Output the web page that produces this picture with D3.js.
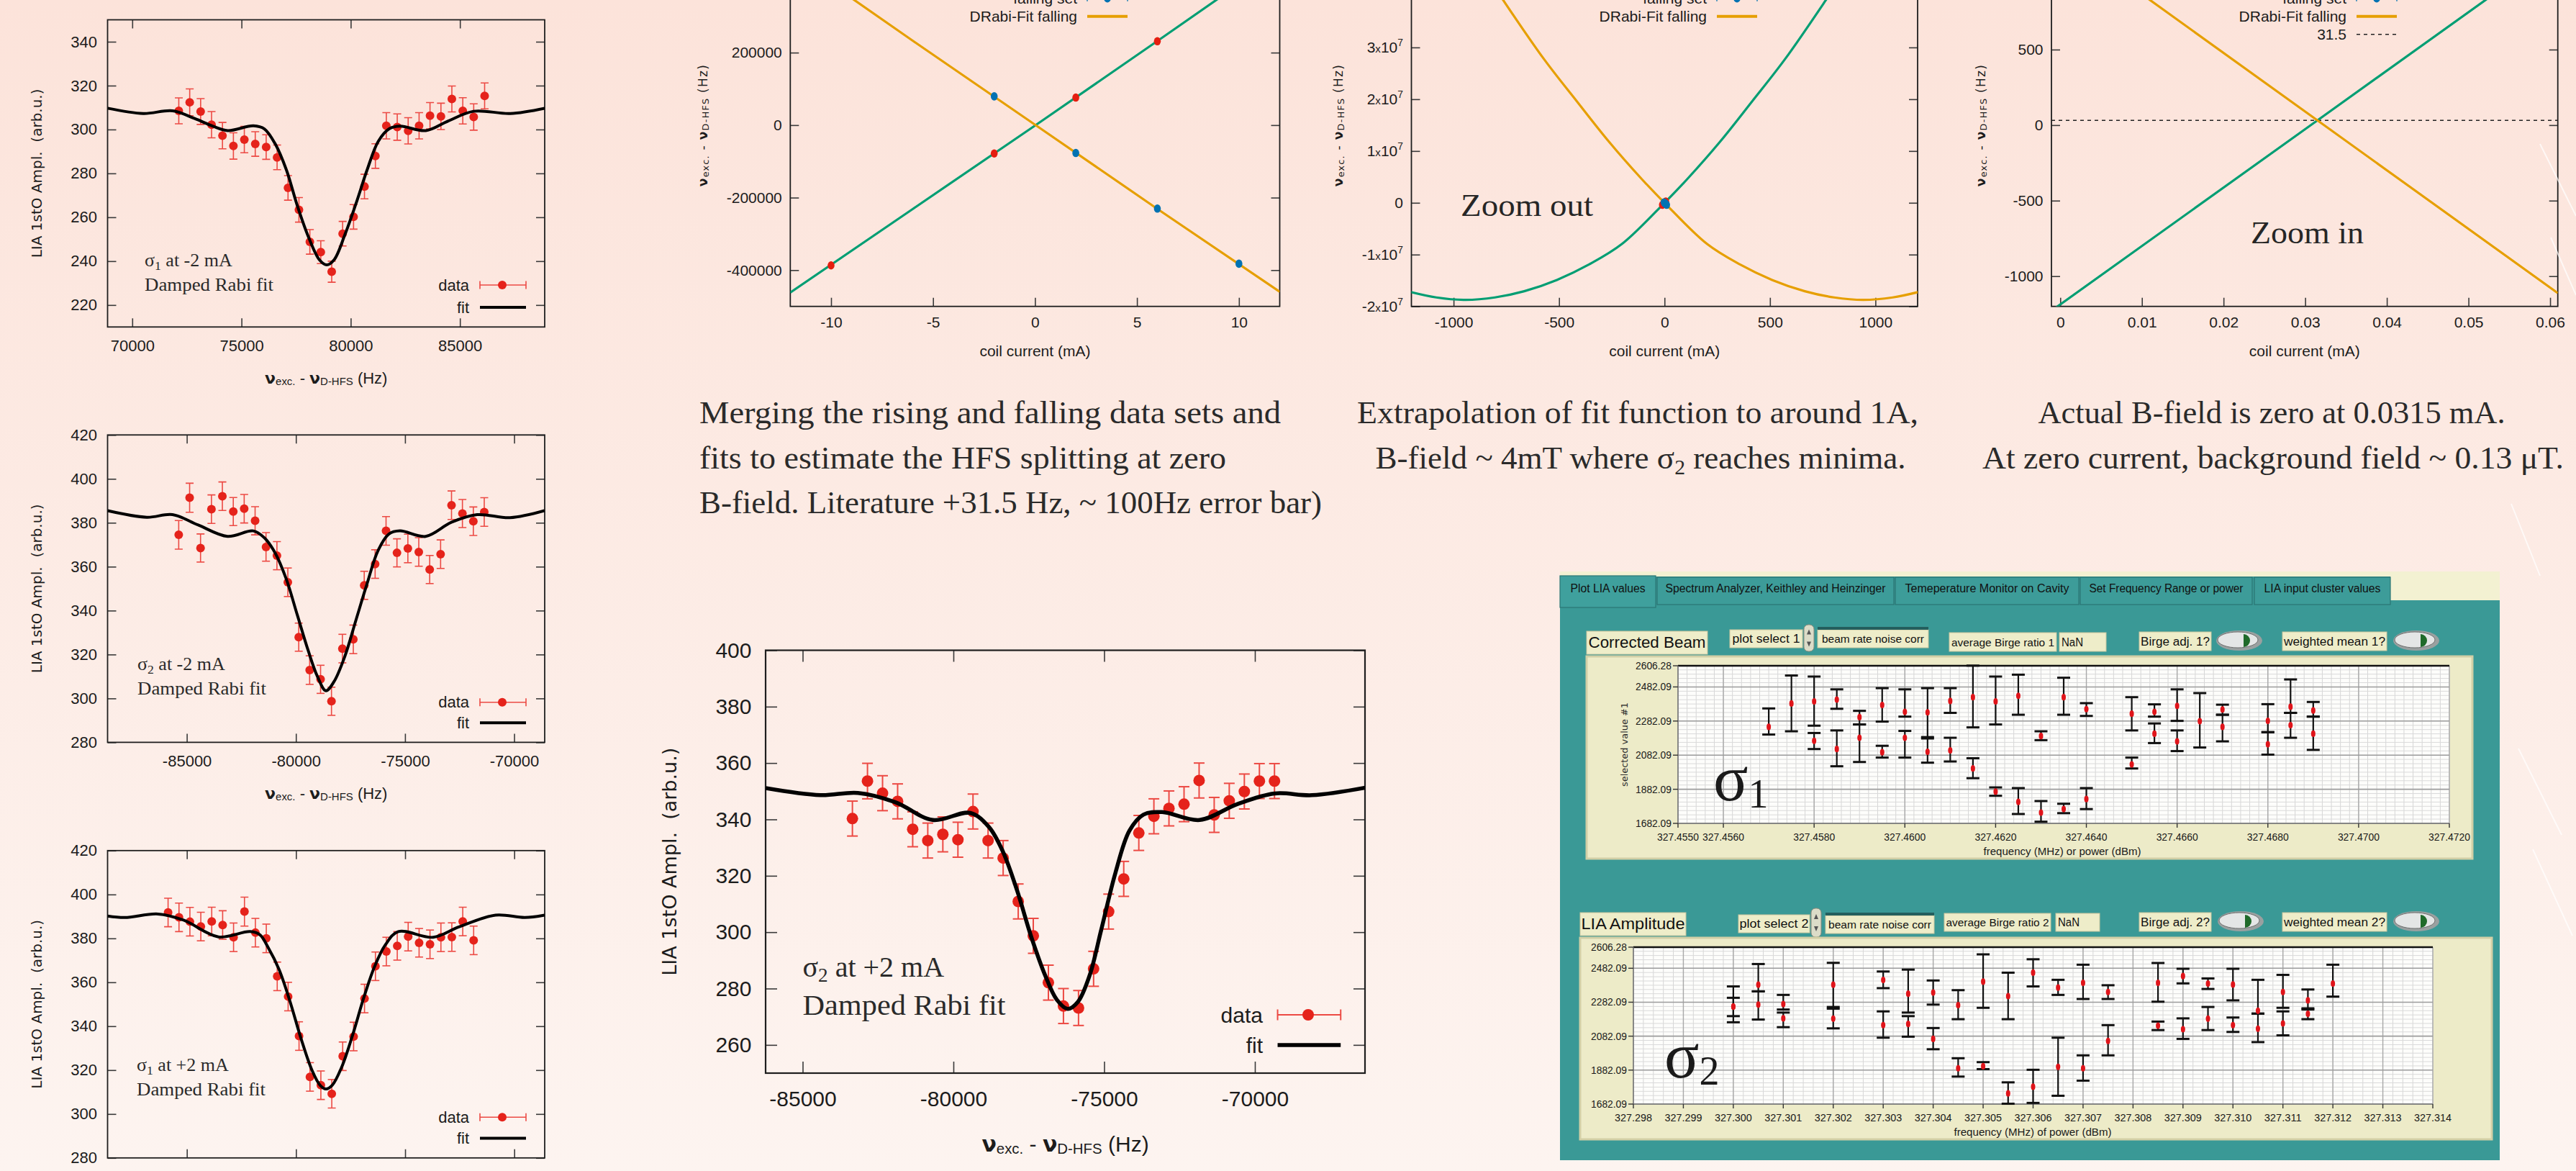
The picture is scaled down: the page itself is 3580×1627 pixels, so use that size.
<!DOCTYPE html>
<html>
<head>
<meta charset="utf-8">
<title>D-HFS damped Rabi scans and zero-field extrapolation</title>
<script src="https://cdn.jsdelivr.net/npm/d3@7"></script>
<style>
html,body{margin:0;padding:0;background:#fdeee8;overflow:hidden}
svg{display:block}
</style>
</head>
<body>
<script>
// ---------------- resonance scans (LIA 1st order amplitude vs detuning) ----------------
// sigma1 at -2 mA
const scanAFreq = [72130,72630,73130,73630,74130,74630,75130,75630,76130,76630,77130,77630,78130,78630,79130,79630,80130,80630,81130,81630,82130,82630,83130,83630,84130,84630,85130,85630,86130];
const scanAAmp  = [308.5,312.4,308.2,302.2,297.2,292.5,295.4,293.4,292.0,287.3,273.4,263.4,248.8,244.1,235.2,252.5,260.2,274.0,287.9,301.7,301.1,299.4,301.7,306.3,306.0,313.9,308.5,305.7,315.3];
const scanAErr  = [5.9,6.1,5.9,6.0,6.0,6.0,6.0,5.6,5.6,5.6,5.6,5.6,5.6,5.2,4.8,5.6,5.6,5.6,5.6,6.0,6.0,6.0,6.0,6.0,6.0,5.9,6.0,6.0,5.9];
const fitAFreq  = [68875,70504,71848,72856,73696,74368,75544,76047,76551,77055,77559,78063,78567,78903,79239,79743,80247,80751,81255,81759,82263,83439,84447,85623,87303,88882];
const fitAAmp   = [309.7,307.3,308.5,305.0,301.5,299.5,301.7,300.3,293.3,281.6,265.2,251.1,240.6,238.3,240.6,252.3,266.4,281.6,294.5,300.3,301.5,299.5,303.8,308.3,307.3,309.7];

// sigma2 at -2 mA
const scanBFreq = [-85370,-84870,-84370,-83870,-83370,-82870,-82370,-81870,-81370,-80870,-80370,-79870,-79370,-78870,-78370,-77870,-77370,-76870,-76370,-75870,-75370,-74870,-74370,-73870,-73370,-72870,-72370,-71870,-71370];
const scanBAmp  = [374.5,391.4,368.5,386.2,392.1,385.1,386.4,380.9,369.0,365.0,352.9,327.9,312.9,308.7,298.7,322.7,326.9,351.5,361.2,376.3,366.3,368.3,366.7,358.7,365.7,388.0,384.2,380.7,384.9];
const scanBErr  = [6.5,6.6,6.4,6.5,6.5,6.4,6.5,6.4,6.5,6.4,6.5,6.4,6.5,6.4,6.4,6.5,6.5,6.4,6.5,6.5,6.4,6.5,6.5,6.4,6.5,6.5,6.4,6.5,6.5];
const fitBFreq  = [-88632,-86833,-85656,-84479,-83134,-81956,-81452,-80948,-80443,-79939,-79434,-79014,-78627,-78257,-77753,-77248,-76744,-76239,-75735,-75230,-74053,-72876,-71699,-70186,-68605];
const fitBAmp   = [385.5,382.5,383.7,379.0,373.8,376.3,373.2,366.2,354.4,338.1,321.7,310.0,303.5,307.6,319.3,335.7,352.1,367.3,374.9,376.3,373.8,380.2,383.7,382.3,385.5];

// sigma1 at +2 mA
const scanCFreq = [69140,69640,70140,70640,71140,71640,72140,72640,73140,73640,74140,74640,75140,75640,76140,76640,77140,77640,78140,78640,79140,79640,80140,80640,81140,81640,82140,82640,83140];
const scanCAmp  = [391.8,389.6,387.6,385.4,387.7,386.1,380.5,392.2,382.6,380.0,362.7,353.5,335.5,316.9,313.1,309.2,326.3,335.3,352.6,367.3,374.0,376.6,380.8,378.0,377.3,380.5,380.6,387.7,379.1];
const scanCErr  = [6.5,6.5,6.5,6.5,6.5,6.5,6.5,6.6,6.5,6.5,6.5,6.5,6.5,6.5,6.5,6.5,6.5,6.5,6.5,6.5,6.5,6.5,6.5,6.5,6.5,6.5,6.5,6.5,6.5];
const fitCFreq  = [66368,67158,68672,69849,71446,72900,73350,73716,74221,74725,75230,75734,76104,76373,76659,77079,77584,78088,78593,79097,79686,81283,82460,84142,85487,86395];
const fitCAmp   = [390.2,389.5,391.1,388.3,380.7,383.1,381.6,376.0,365.9,351.3,334.4,319.9,313.1,311.4,313.1,321.0,335.6,352.4,367.0,377.1,383.1,380.5,385.2,390.6,389.5,390.6];

// sigma2 at +2 mA
const scanDFreq = [-83350,-82850,-82350,-81850,-81350,-80850,-80350,-79850,-79350,-78850,-78350,-77850,-77350,-76850,-76350,-75850,-75350,-74850,-74350,-73850,-73350,-72850,-72350,-71850,-71350,-70850,-70350,-69850,-69350];
const scanDAmp  = [340.3,353.6,349.3,346.4,336.5,332.5,334.7,332.8,342.8,332.5,326.3,310.9,298.7,282.1,273.8,273.1,287.0,307.3,318.9,335.2,341.1,343.9,345.4,353.8,341.6,346.6,349.9,353.6,353.6];
const scanDErr  = [6.2,6.3,6.2,6.2,6.2,6.2,6.2,6.2,6.2,6.2,6.2,6.2,6.2,6.2,6.2,6.2,6.2,6.2,6.2,6.2,6.2,6.2,6.2,6.2,6.2,6.2,6.2,6.2,6.2];
const fitDFreq  = [-86227,-84410,-83168,-81925,-80683,-79441,-78820,-78354,-77888,-77422,-76957,-76568,-76211,-75870,-75481,-75093,-74627,-74161,-73696,-73075,-71832,-70590,-69348,-68106,-66320];
const fitDAmp   = [351.1,348.6,349.4,346.1,339.8,342.3,337.3,328.5,314.8,298.5,284.7,276.0,272.8,275.3,284.7,301.0,321.0,336.0,341.7,342.6,339.8,345.4,349.2,348.6,351.3];

// ---------------- resonance position vs coil current ----------------
const risingCurrent  = [-10, -2, 2, 6];
const risingShift    = [-386900, -78200, 76000, 231400];
const fallingCurrent = [-2, 2, 6, 10];
const fallingShift   = [79400, -76800, -230200, -382300];

// merged fits, +-12 mA
const fitCurrentNear = [-12, -6, 0, 6, 12];
const fitRiseNear    = [-461700, -231500, -1200, 232000, 467000];
const fitFallNear    = [468000, 233000, 1200, -231000, -459700];

// extrapolation to +-1.2 A
const fitRiseWideI = [-1205, -1082, -943, -804, -665, -510, -356, -201, 0, 108, 263, 417, 572, 765, 900];
const fitRiseWide  = [-1.721e7, -1.827e7, -1.874e7, -1.827e7, -1.707e7, -1.489e7, -1.187e7, -7.93e6, 0, 4.59e6, 1.178e7, 1.967e7, 2.778e7, 3.915e7, 4.75e7];
const fitFallWideI = [-900, -765, -572, -417, -263, -108, 0, 201, 356, 510, 665, 804, 943, 1082, 1205];
const fitFallWide  = [4.75e7, 3.915e7, 2.778e7, 1.967e7, 1.178e7, 4.59e6, 0, -7.93e6, -1.187e7, -1.489e7, -1.707e7, -1.827e7, -1.874e7, -1.827e7, -1.721e7];

// zero crossing detail
const fitCurrentZoom = [-0.00108, 0.0315, 0.06094];
const fitRiseZoom    = [-1229, 31.5, 1171];
const fitFallZoom    = [1297, 31.5, -1112];
const literatureHFS  = 31.5;

// ---------------- control software LIA plots ----------------
const lvYTicks = [1682.09, 1882.09, 2082.09, 2282.09, 2482.09, 2606.28];
const lv1XTicks = [327.455, 327.456, 327.458, 327.460, 327.462, 327.464, 327.466, 327.468, 327.470, 327.472];
const lv2XTicks = [327.298, 327.299, 327.300, 327.301, 327.302, 327.303, 327.304, 327.305, 327.306, 327.307, 327.308, 327.309, 327.310, 327.311, 327.312, 327.313, 327.314];

const lia1Freq = [327.4570,327.4575,327.4580,327.4580,327.4585,327.4585,327.4590,327.4590,327.4595,327.4595,327.4600,327.4600,327.4605,327.4605,327.4610,327.4610,327.4615,327.4615,327.4620,327.4620,327.4625,327.4625,327.4630,327.4630,327.4635,327.4635,327.4640,327.4640,327.4650,327.4650,327.4655,327.4655,327.4660,327.4660,327.4665,327.4670,327.4670,327.4680,327.4680,327.4685,327.4685,327.4690,327.4690];
const lia1Pt   = [2248,2385,2397,2166,2408,2118,2305,2184,2376,2099,2336,2184,2333,2102,2400,2110,2422,2004,2397,1868,2430,1808,2194,1745,2422,1766,2352,1825,2325,2028,2336,2208,2371,2163,2281,2350,2248,2283,2146,2366,2258,2344,2208];
const lia1Hi   = [2356,2549,2543,2212,2468,2227,2342,2262,2475,2137,2468,2224,2475,2180,2475,2184,2607,2064,2543,1893,2554,1889,2222,1813,2536,1797,2387,1889,2422,2068,2380,2268,2468,2227,2446,2378,2319,2381,2217,2526,2330,2394,2308];
const lia1Lo   = [2203,2222,2255,2118,2354,2017,2262,2042,2279,2068,2308,2068,2188,2038,2330,2045,2245,1947,2262,1844,2319,1737,2170,1692,2319,1742,2312,1766,2227,2004,2308,2153,2283,2106,2127,2319,2163,2217,2085,2330,2184,2308,2113];

const lia2Freq = [327.3000,327.3000,327.3005,327.3005,327.3010,327.3010,327.3020,327.3020,327.3030,327.3030,327.3035,327.3035,327.3040,327.3040,327.3045,327.3045,327.3050,327.3050,327.3055,327.3055,327.3060,327.3060,327.3065,327.3065,327.3070,327.3070,327.3075,327.3075,327.3085,327.3085,327.3090,327.3090,327.3095,327.3095,327.3100,327.3100,327.3105,327.3105,327.3110,327.3110,327.3115,327.3115,327.3120];
const lia2Pt   = [2256,2256,2385,2268,2271,2187,2385,2185,2413,2147,2332,2154,2339,2066,2265,1893,2403,1905,2318,1745,2456,1784,2368,1901,2396,1893,2342,2054,2396,2144,2436,2123,2392,2185,2386,2147,2232,2126,2342,2157,2293,2214,2392];
const lia2Hi   = [2375,2308,2507,2346,2325,2221,2514,2244,2463,2228,2474,2200,2410,2130,2353,1952,2564,1929,2456,1810,2535,1884,2414,2073,2503,1969,2382,2147,2513,2168,2479,2187,2422,2254,2479,2192,2414,2215,2443,2228,2357,2239,2503];
const lia2Lo   = [2164,2200,2346,2180,2239,2135,2254,2128,2365,2073,2221,2079,2268,2005,2182,1844,2249,1888,2182,1684,2375,1689,2325,1731,2301,1820,2301,1969,2285,2118,2393,2066,2360,2118,2293,2107,2215,2047,2249,2087,2246,2182,2315];

// ---------------- page setup ----------------
const W = 3580, H = 1627;
const SANS = "'Liberation Sans', Arial, sans-serif";
const SERIF = "'Liberation Serif', 'Times New Roman', serif";
const VERD = "'DejaVu Sans', Verdana, sans-serif";
const INK = "#1c1c1c";
const DOT_RED = "#e5231b", ERR_RED = "#ec4a44";
const GREEN = "#009e73", ORANGE = "#e69f00", BLUE = "#0072b2", RED = "#e51e10";

const svg = d3.select("body").append("svg").attr("width", W).attr("height", H)
  .attr("viewBox", `0 0 ${W} ${H}`);
const defs = svg.append("defs");
const bgGrad = defs.append("linearGradient").attr("id", "bgGrad").attr("x1", 0).attr("y1", 0).attr("x2", 0).attr("y2", 1);
bgGrad.append("stop").attr("offset", "0%").attr("stop-color", "#fce3da");
bgGrad.append("stop").attr("offset", "100%").attr("stop-color", "#fdf4f0");
svg.append("rect").attr("width", W).attr("height", H).attr("fill", "url(#bgGrad)");

let clipCount = 0;
function clipFor(x, y) {
  const id = "clip" + (clipCount++);
  const [x0, x1] = x.range(), [y0, y1] = y.range();
  defs.append("clipPath").attr("id", id).append("rect")
    .attr("x", Math.min(x0, x1)).attr("y", Math.min(y0, y1))
    .attr("width", Math.abs(x1 - x0)).attr("height", Math.abs(y1 - y0));
  return id;
}

const plain = d => String(d);

// gnuplot-like frame: ticks pointing inward on all four sides
function gnuplotFrame(g, x, y, o) {
  const [xl, xr] = x.range(), [yb, yt] = y.range();
  const axes = [];
  axes.push(g.append("g").attr("transform", `translate(0,${yb})`)
    .call(d3.axisBottom(x).tickValues(o.xTicks).tickSize(-o.tick).tickSizeOuter(0).tickPadding(o.xPad).tickFormat(o.xFmt || plain)));
  axes.push(g.append("g").attr("transform", `translate(0,${yt})`)
    .call(d3.axisTop(x).tickValues(o.xTicks).tickSize(-o.tick).tickSizeOuter(0).tickFormat("")));
  const left = g.append("g").attr("transform", `translate(${xl},0)`)
    .call(d3.axisLeft(y).tickValues(o.yTicks).tickSize(-o.tick).tickSizeOuter(0).tickPadding(o.yPad).tickFormat(o.yFmt || plain));
  axes.push(left);
  axes.push(g.append("g").attr("transform", `translate(${xr},0)`)
    .call(d3.axisRight(y).tickValues(o.yTicks).tickSize(-o.tick).tickSizeOuter(0).tickFormat("")));
  axes.forEach(a => {
    a.attr("font-size", null).attr("font-family", null);
    a.select(".domain").remove();
    a.selectAll("line").attr("stroke", "#3a3a3a").attr("stroke-width", o.tickW || 1.6);
    a.selectAll("text").attr("fill", INK).attr("font-size", o.font).attr("font-family", SANS);
  });
  if (o.ySci) left.selectAll("text").call(o.ySci);
  g.append("rect").attr("x", xl).attr("y", yt).attr("width", xr - xl).attr("height", yb - yt)
    .attr("fill", "none").attr("stroke", "#1e1e1e").attr("stroke-width", o.frameW || 1.8);
}

// "nu_exc. - nu_D-HFS (Hz)" label
function nuLabel(g, x, y, size, opts = {}) {
  const t = g.append("text").attr("x", x).attr("y", y).attr("text-anchor", "middle")
    .attr("font-family", opts.family || SANS).attr("font-size", size).attr("fill", INK);
  if (opts.rotate) t.attr("transform", `rotate(-90,${x},${y})`);
  if (opts.spacing) t.attr("letter-spacing", opts.spacing);
  const sub = size * (opts.subScale || 0.68), drop = size * 0.1;
  t.append("tspan").attr("font-weight", "bold").attr("font-family", VERD).text("ν");
  t.append("tspan").attr("font-size", sub).attr("dy", drop).text("exc.");
  t.append("tspan").attr("dy", -drop).text(" - ");
  t.append("tspan").attr("font-weight", "bold").attr("font-family", VERD).text("ν");
  t.append("tspan").attr("font-size", sub).attr("dy", drop).text("D-HFS");
  t.append("tspan").attr("dy", -drop).text(" (Hz)");
  return t;
}

// ---------------- resonance scan panels ----------------
const smallStyle = {k: 1, tick: 12, font: 22, xPad: 18, yPad: 14.5, r: 6, cap: 5.5, errW: 1.6, fitW: 4, frameW: 1.8,
  legFont: 22, annFont: 26, annTL: 179, yLabFont: 20, xLabFont: 22};
const bigStyle = {k: 1.37, tick: 16, font: 30, xPad: 25, yPad: 19.5, r: 8, cap: 7.5, errW: 2, fitW: 5.5, frameW: 2.2,
  legFont: 30, annFont: 40, annTL: 282, yLabFont: 27, xLabFont: 30};

function resonancePanel(cfg, st, d) {
  const g = svg.append("g");
  const x = d3.scaleLinear().domain(cfg.xDomain).range([cfg.left, cfg.right]);
  const y = d3.scaleLinear().domain(cfg.yDomain).range([cfg.bottom, cfg.top]);
  gnuplotFrame(g, x, y, {xTicks: cfg.xTicks, yTicks: cfg.yTicks, tick: st.tick, font: st.font,
    xPad: st.xPad, yPad: st.yPad, frameW: st.frameW});
  const plot = g.append("g").attr("clip-path", `url(#${clipFor(x, y)})`);
  const pts = d.freq.map((f, i) => ({f, a: d.amp[i], e: d.err[i]}));
  const eb = plot.append("g").attr("stroke", ERR_RED).attr("stroke-width", st.errW);
  pts.forEach(p => {
    const px = x(p.f);
    eb.append("line").attr("x1", px).attr("x2", px).attr("y1", y(p.a - p.e)).attr("y2", y(p.a + p.e));
    [p.a - p.e, p.a + p.e].forEach(v => eb.append("line")
      .attr("x1", px - st.cap).attr("x2", px + st.cap).attr("y1", y(v)).attr("y2", y(v)));
  });
  plot.append("g").selectAll("circle").data(pts).join("circle")
    .attr("cx", p => x(p.f)).attr("cy", p => y(p.a)).attr("r", st.r).attr("fill", DOT_RED);
  plot.append("path").datum(d3.zip(d.fitFreq, d.fitAmp))
    .attr("d", d3.line().x(p => x(p[0])).y(p => y(p[1])).curve(d3.curveCatmullRom.alpha(0.5)))
    .attr("fill", "none").attr("stroke", "#000").attr("stroke-width", st.fitW).attr("stroke-linejoin", "round");

  // key
  const k = st.k, lr = cfg.legRight;
  g.append("text").attr("x", lr).attr("y", cfg.legY1 + st.legFont * 0.35).attr("text-anchor", "end")
    .attr("font-family", SANS).attr("font-size", st.legFont).attr("fill", INK).text("data");
  g.append("text").attr("x", lr).attr("y", cfg.legY2 + st.legFont * 0.35).attr("text-anchor", "end")
    .attr("font-family", SANS).attr("font-size", st.legFont).attr("fill", INK).text("fit");
  const s0 = lr + 15 * k, s1 = lr + 79 * k, sd = lr + 46 * k;
  const key = g.append("g").attr("stroke", ERR_RED).attr("stroke-width", st.errW);
  key.append("line").attr("x1", s0).attr("x2", s1).attr("y1", cfg.legY1).attr("y2", cfg.legY1);
  [s0, s1].forEach(v => key.append("line").attr("x1", v).attr("x2", v)
    .attr("y1", cfg.legY1 - st.cap).attr("y2", cfg.legY1 + st.cap));
  g.append("circle").attr("cx", sd).attr("cy", cfg.legY1).attr("r", st.r).attr("fill", DOT_RED);
  g.append("line").attr("x1", s0).attr("x2", s1).attr("y1", cfg.legY2).attr("y2", cfg.legY2)
    .attr("stroke", "#000").attr("stroke-width", st.fitW);

  // annotation
  const a1 = g.append("text").attr("x", cfg.annX).attr("y", cfg.annY1).attr("font-family", SERIF)
    .attr("font-size", st.annFont).attr("fill", "#2a2a2a");
  a1.append("tspan").text("σ");
  a1.append("tspan").attr("font-size", st.annFont * 0.68).attr("dy", st.annFont * 0.18).text(cfg.sigmaSub);
  a1.append("tspan").attr("dy", -st.annFont * 0.18).text(cfg.annText);
  g.append("text").attr("x", cfg.annX).attr("y", cfg.annY2).attr("font-family", SERIF)
    .attr("font-size", st.annFont).attr("fill", "#2a2a2a")
    .attr("textLength", st.annTL).attr("lengthAdjust", "spacingAndGlyphs").text("Damped Rabi fit");

  // axis titles
  g.append("text").attr("transform", `translate(${cfg.yLabX},${(cfg.top + cfg.bottom) / 2}) rotate(-90)`)
    .attr("text-anchor", "middle").attr("dy", "0.35em").attr("font-family", VERD)
    .attr("font-size", st.yLabFont).attr("fill", INK).attr("xml:space", "preserve").text("LIA 1stO Ampl.  (arb.u.)");
  nuLabel(g, (cfg.left + cfg.right) / 2, cfg.xLabY + st.xLabFont * 0.35, st.xLabFont);
}

resonancePanel({left: 149.5, right: 757, top: 27.5, bottom: 454.3, xDomain: [68870, 88880], yDomain: [210, 350],
  xTicks: [70000, 75000, 80000, 85000], yTicks: [220, 240, 260, 280, 300, 320, 340],
  sigmaSub: "1", annText: " at -2 mA", annX: 201, annY1: 370, annY2: 404,
  legRight: 652, legY1: 396, legY2: 427, yLabX: 51, xLabY: 525}, smallStyle,
  {freq: scanAFreq, amp: scanAAmp, err: scanAErr, fitFreq: fitAFreq, fitAmp: fitAAmp});

resonancePanel({left: 149.5, right: 757, top: 604.3, bottom: 1031.4, xDomain: [-88630, -68600], yDomain: [280, 420],
  xTicks: [-85000, -80000, -75000, -70000], yTicks: [280, 300, 320, 340, 360, 380, 400, 420],
  sigmaSub: "2", annText: " at -2 mA", annX: 191, annY1: 931, annY2: 965,
  legRight: 652, legY1: 975.7, legY2: 1004.3, yLabX: 51, xLabY: 1102}, smallStyle,
  {freq: scanBFreq, amp: scanBAmp, err: scanBErr, fitFreq: fitBFreq, fitAmp: fitBAmp});

resonancePanel({left: 149.5, right: 757, top: 1181.8, bottom: 1608.8, xDomain: [66368, 86395], yDomain: [280, 420],
  xTicks: [70000, 75000, 80000, 85000], yTicks: [280, 300, 320, 340, 360, 380, 400, 420],
  sigmaSub: "1", annText: " at +2 mA", annX: 190, annY1: 1488, annY2: 1522,
  legRight: 652, legY1: 1552.3, legY2: 1581.4, yLabX: 51, xLabY: 1679}, smallStyle,
  {freq: scanCFreq, amp: scanCAmp, err: scanCErr, fitFreq: fitCFreq, fitAmp: fitCAmp});

resonancePanel({left: 1064, right: 1897, top: 903.5, bottom: 1491, xDomain: [-86229, -66348], yDomain: [250, 400],
  xTicks: [-85000, -80000, -75000, -70000], yTicks: [260, 280, 300, 320, 340, 360, 380, 400],
  sigmaSub: "2", annText: " at +2 mA", annX: 1115.5, annY1: 1356.6, annY2: 1410,
  legRight: 1755, legY1: 1410, legY2: 1452, yLabX: 931, xLabY: 1589}, bigStyle,
  {freq: scanDFreq, amp: scanDAmp, err: scanDErr, fitFreq: fitDFreq, fitAmp: fitDAmp});

// ---------------- coil current panels ----------------
function sciTicks(sel) {
  sel.each(function (d) {
    const t = d3.select(this);
    const fs = +t.attr("font-size");
    t.text(null);
    if (d === 0) { t.text("0"); return; }
    t.append("tspan").text(String(d / 1e7));
    t.append("tspan").attr("font-size", fs * 0.72).text("x");
    t.append("tspan").text("10");
    t.append("tspan").attr("font-size", fs * 0.66).attr("dy", -fs * 0.42).text("7");
  });
}

function currentPanel(cfg) {
  const g = svg.append("g");
  const x = d3.scaleLinear().domain(cfg.xDomain).range([cfg.left, cfg.right]);
  const y = d3.scaleLinear().domain(cfg.yDomain).range([cfg.bottom, cfg.top]);
  gnuplotFrame(g, x, y, {xTicks: cfg.xTicks, yTicks: cfg.yTicks, tick: 12, font: 21, xPad: 14.5,
    yPad: 11.5, frameW: 1.8, ySci: cfg.sci ? sciTicks : null});
  const plot = g.append("g").attr("clip-path", `url(#${clipFor(x, y)})`);
  const line = d3.line().x(p => x(p[0])).y(p => y(p[1])).curve(cfg.curve);
  if (cfg.refLine !== undefined) {
    plot.append("line").attr("x1", cfg.left).attr("x2", cfg.right).attr("y1", y(cfg.refLine)).attr("y2", y(cfg.refLine))
      .attr("stroke", "#222").attr("stroke-width", 1.6).attr("stroke-dasharray", "5,5");
  }
  plot.append("path").datum(d3.zip(cfg.riseI, cfg.rise)).attr("d", line)
    .attr("fill", "none").attr("stroke", GREEN).attr("stroke-width", 3.2);
  plot.append("path").datum(d3.zip(cfg.fallI, cfg.fall)).attr("d", line)
    .attr("fill", "none").attr("stroke", ORANGE).attr("stroke-width", 3.2);
  plot.append("g").selectAll("ellipse").data(d3.zip(risingCurrent, risingShift)).join("ellipse")
    .attr("cx", p => x(p[0])).attr("cy", p => y(p[1])).attr("rx", 4.8).attr("ry", 5.8).attr("fill", RED);
  plot.append("g").selectAll("ellipse").data(d3.zip(fallingCurrent, fallingShift)).join("ellipse")
    .attr("cx", p => x(p[0])).attr("cy", p => y(p[1])).attr("rx", 4.8).attr("ry", 5.8).attr("fill", BLUE);

  // key (upper rows run past the top of the page)
  const rows = [
    {label: "rising set", kind: "pts", color: RED},
    {label: "DRabi-Fit rising", kind: "line", color: GREEN},
    {label: "falling set", kind: "pts", color: BLUE},
    {label: "DRabi-Fit falling", kind: "line", color: ORANGE}];
  if (cfg.refLine !== undefined) rows.push({label: String(cfg.refLine), kind: "dash", color: "#222"});
  rows.forEach((r, i) => {
    const ry = cfg.keyY0 + i * 25;
    g.append("text").attr("x", cfg.keyRight).attr("y", ry + 7.3).attr("text-anchor", "end")
      .attr("font-family", SANS).attr("font-size", 21).attr("fill", INK).text(r.label);
    const s0 = cfg.keyRight + 14, s1 = cfg.keyRight + 70;
    if (r.kind === "line") {
      g.append("line").attr("x1", s0).attr("x2", s1).attr("y1", ry).attr("y2", ry).attr("stroke", r.color).attr("stroke-width", 4);
    } else if (r.kind === "dash") {
      g.append("line").attr("x1", s0).attr("x2", s1).attr("y1", ry).attr("y2", ry).attr("stroke", r.color)
        .attr("stroke-width", 1.6).attr("stroke-dasharray", "5,5");
    } else {
      const kg = g.append("g").attr("stroke", r.color).attr("stroke-width", 1.4);
      kg.append("line").attr("x1", s0).attr("x2", s1).attr("y1", ry).attr("y2", ry);
      [s0, s1].forEach(v => kg.append("line").attr("x1", v).attr("x2", v).attr("y1", ry - 4).attr("y2", ry + 4));
      g.append("ellipse").attr("cx", (s0 + s1) / 2).attr("cy", ry).attr("rx", 4.8).attr("ry", 5.8).attr("fill", r.color);
    }
  });

  // annotation
  if (cfg.note) {
    g.append("text").attr("x", cfg.note.x).attr("y", cfg.note.y).attr("font-family", SERIF)
      .attr("font-size", 45).attr("fill", "#262626")
      .attr("textLength", cfg.note.tl).attr("lengthAdjust", "spacingAndGlyphs").text(cfg.note.text);
  }
  // axis titles
  g.append("text").attr("x", (cfg.left + cfg.right) / 2).attr("y", 495).attr("text-anchor", "middle")
    .attr("font-family", SANS).attr("font-size", 21).attr("fill", INK).text("coil current (mA)");
  nuLabel(g, cfg.yLabX + 6, 174, 17, {rotate: true, spacing: 1.3, family: VERD, subScale: 0.75});
}

currentPanel({left: 1098.3, right: 1778.5, top: -78, bottom: 425.7, xDomain: [-12, 12], yDomain: [-500000, 500000],
  xTicks: [-10, -5, 0, 5, 10], yTicks: [-400000, -200000, 0, 200000],
  riseI: fitCurrentNear, rise: fitRiseNear, fallI: fitCurrentNear, fall: fitFallNear, curve: d3.curveLinear,
  keyRight: 1497, keyY0: -52.3, yLabX: 977});

currentPanel({left: 1961.5, right: 2665, top: -78, bottom: 425.7, xDomain: [-1200, 1200], yDomain: [-2e7, 5e7],
  xTicks: [-1000, -500, 0, 500, 1000], yTicks: [-2e7, -1e7, 0, 1e7, 2e7, 3e7], sci: true,
  riseI: fitRiseWideI, rise: fitRiseWide, fallI: fitFallWideI, fall: fitFallWide, curve: d3.curveCatmullRom.alpha(0.5),
  keyRight: 2372, keyY0: -52.3, yLabX: 1860, note: {text: "Zoom out", x: 2030, y: 300, tl: 184}});

currentPanel({left: 2851, right: 3554.7, top: -78, bottom: 425.7, xDomain: [-0.00108, 0.06094], yDomain: [-1200, 1200],
  xTicks: [0, 0.01, 0.02, 0.03, 0.04, 0.05, 0.06], yTicks: [-1000, -500, 0, 500],
  riseI: fitCurrentZoom, rise: fitRiseZoom, fallI: fitCurrentZoom, fall: fitFallZoom, curve: d3.curveLinear,
  refLine: literatureHFS, keyRight: 3261, keyY0: -52.3, yLabX: 2753, note: {text: "Zoom in", x: 3128, y: 338, tl: 157}});

// ---------------- captions ----------------
const cap = svg.append("g").attr("font-family", SERIF).attr("font-size", 44).attr("fill", "#2a2a2a");
function capLine(text, x, y, tl, anchor) {
  return cap.append("text").attr("x", x).attr("y", y).attr("text-anchor", anchor || "start")
    .attr("textLength", tl).attr("lengthAdjust", "spacingAndGlyphs").text(text);
}
capLine("Merging the rising and falling data sets and", 972, 588, 808);
capLine("fits to estimate the HFS splitting at zero", 972, 650.5, 732);
capLine("B-field. Literature +31.5 Hz, ~ 100Hz error bar)", 972, 713, 865);
capLine("Extrapolation of fit function to around 1A,", 2276, 588, 780, "middle");
const c22 = cap.append("text").attr("x", 2280).attr("y", 650.5).attr("text-anchor", "middle")
  .attr("textLength", 737).attr("lengthAdjust", "spacingAndGlyphs");
c22.append("tspan").text("B-field ~ 4mT where σ");
c22.append("tspan").attr("font-size", 29).attr("dy", 8).text("2");
c22.append("tspan").attr("dy", -8).text(" reaches minima.");
capLine("Actual B-field is zero at 0.0315 mA.", 3157, 588, 649, "middle");
capLine("At zero current, background field ~ 0.13 μT.", 3159, 650.5, 808, "middle");

// ---------------- control software front panel ----------------
const TEAL = "#3a9996", TEAL_DARK = "#2a7573", PALE = "#eeedc9", PALE_EDGE = "#c9c69e";
const lv = svg.append("g");
lv.append("rect").attr("x", 2168).attr("y", 794).attr("width", 1306).attr("height", 818).attr("fill", TEAL);
lv.append("rect").attr("x", 2168).attr("y", 794).attr("width", 1306).attr("height", 7).attr("fill", "#f3f1d2");
lv.append("rect").attr("x", 3322).attr("y", 794).attr("width", 152).attr("height", 40).attr("fill", "#f3f1d2");

const tabs = [
  {label: "Plot LIA values", x0: 2168, x1: 2301, tl: 104, active: true},
  {label: "Spectrum Analyzer, Keithley and Heinzinger", x0: 2303, x1: 2632, tl: 306},
  {label: "Temeperature Monitor on Cavity", x0: 2634, x1: 2889, tl: 228},
  {label: "Set Frequency Range or power", x0: 2891, x1: 3130, tl: 214},
  {label: "LIA input cluster values", x0: 3133, x1: 3322, tl: 162}];
tabs.forEach(t => {
  lv.append("rect").attr("x", t.x0).attr("y", t.active ? 800 : 802).attr("width", t.x1 - t.x0)
    .attr("height", t.active ? 44 : 38).attr("fill", t.active ? "#3fa09d" : "#3d9c99")
    .attr("stroke", TEAL_DARK).attr("stroke-width", 1.2);
  lv.append("text").attr("x", (t.x0 + t.x1) / 2).attr("y", 823).attr("text-anchor", "middle")
    .attr("font-family", SANS).attr("font-size", 16).attr("fill", "#101010")
    .attr("textLength", t.tl).attr("lengthAdjust", "spacingAndGlyphs").text(t.label);
});

function lvBox(label, x0, x1, y0, y1, fs, tl, opts = {}) {
  lv.append("rect").attr("x", x0).attr("y", y0).attr("width", x1 - x0).attr("height", y1 - y0)
    .attr("fill", PALE).attr("stroke", PALE_EDGE).attr("stroke-width", 1);
  if (opts.darkTop) lv.append("rect").attr("x", x0).attr("y", y0 - 4).attr("width", x1 - x0).attr("height", 4).attr("fill", "#245f5e");
  lv.append("text").attr("x", opts.left ? x0 + 3 : (x0 + x1) / 2).attr("y", y1 - (y1 - y0) * 0.28)
    .attr("text-anchor", opts.left ? "start" : "middle").attr("font-family", SANS).attr("font-size", fs)
    .attr("fill", "#111").attr("textLength", tl).attr("lengthAdjust", "spacingAndGlyphs").text(label);
}
function lvSpinner(x0, y0, y1) {
  lv.append("rect").attr("x", x0).attr("y", y0).attr("width", 14).attr("height", y1 - y0).attr("rx", 6)
    .attr("fill", "#dcdcc8").attr("stroke", "#8a8a7a");
  const m = (y0 + y1) / 2;
  lv.append("path").attr("d", `M${x0 + 4},${m - 5} L${x0 + 7},${m - 12} L${x0 + 10},${m - 5}Z`).attr("fill", "#555");
  lv.append("path").attr("d", `M${x0 + 4},${m + 5} L${x0 + 7},${m + 12} L${x0 + 10},${m + 5}Z`).attr("fill", "#555");
}
function lvToggle(cx, cy) {
  lv.append("ellipse").attr("cx", cx).attr("cy", cy).attr("rx", 32).attr("ry", 14).attr("fill", "#9aa0a0");
  lv.append("ellipse").attr("cx", cx - 2).attr("cy", cy - 1).attr("rx", 28).attr("ry", 11).attr("fill", "#e4e6e6")
    .attr("stroke", "#707070").attr("stroke-width", 1);
  lv.append("path").attr("d", `M${cx + 6},${cy - 9} A9,9 0 0 1 ${cx + 6},${cy + 9} Z`).attr("fill", "#1f6a2a");
}

// control row, sigma1 block
lvBox("Corrected Beam", 2205, 2373, 877, 909, 22, 163);
lvBox("plot select 1", 2404, 2505, 875, 900, 16, 94);
lvSpinner(2507, 868, 905);
lvBox("beam rate noise corr", 2526, 2680, 875, 900, 15, 142, {darkTop: true});
lvBox("average Birge ratio 1", 2709, 2858, 879, 905, 15, 143);
lvBox("NaN", 2862, 2927, 879, 905, 16, 30, {left: true});
lvBox("Birge adj. 1?", 2973, 3073, 878, 904, 16, 96);
lvToggle(3112, 890);
lvBox("weighted mean 1?", 3172, 3317, 878, 904, 16, 141);
lvToggle(3358, 890);

// control row, sigma2 block
lvBox("LIA Amplitude", 2196, 2343, 1268, 1300, 22, 144);
lvBox("plot select 2", 2416, 2515, 1271, 1296, 16, 96);
lvSpinner(2517, 1262, 1302);
lvBox("beam rate noise corr", 2537, 2688, 1272, 1297, 15, 143, {darkTop: true});
lvBox("average Birge ratio 2", 2702, 2850, 1269, 1294, 15, 143);
lvBox("NaN", 2857, 2918, 1269, 1294, 16, 30, {left: true});
lvBox("Birge adj. 2?", 2973, 3073, 1268, 1294, 16, 96);
lvToggle(3114, 1280);
lvBox("weighted mean 2?", 3172, 3317, 1268, 1294, 16, 141);
lvToggle(3358, 1280);

function lvGraph(cfg, d) {
  const g = lv.append("g");
  g.append("rect").attr("x", cfg.bezel[0]).attr("y", cfg.bezel[1]).attr("width", cfg.bezel[2] - cfg.bezel[0])
    .attr("height", cfg.bezel[3] - cfg.bezel[1]).attr("fill", "#edebc8").attr("stroke", "#d2cfa6").attr("stroke-width", 3);
  const [ax0, ay0, ax1, ay1] = cfg.area;
  const x = d3.scaleLinear().domain(cfg.xDomain).range([ax0, ax1]);
  const y = d3.scaleLinear().domain([1682.09, 2606.28]).range([ay1, ay0]);
  g.append("rect").attr("x", ax0).attr("y", ay0).attr("width", ax1 - ax0).attr("height", ay1 - ay0).attr("fill", "#fdfdfb");
  // grid
  const minorX = d3.range(cfg.xDomain[0], cfg.xDomain[1] + 1e-9, 0.0002);
  g.append("g").selectAll("line").data(minorX).join("line")
    .attr("x1", v => x(v)).attr("x2", v => x(v)).attr("y1", ay0).attr("y2", ay1)
    .attr("stroke", "#d6d6d6").attr("stroke-width", 1);
  const minorY = d3.range(1682.09, 2606.28, 25);
  g.append("g").selectAll("line").data(minorY).join("line")
    .attr("x1", ax0).attr("x2", ax1).attr("y1", v => y(v)).attr("y2", v => y(v))
    .attr("stroke", "#dadada").attr("stroke-width", 1);
  g.append("g").selectAll("line").data(cfg.xTicks).join("line")
    .attr("x1", v => x(v)).attr("x2", v => x(v)).attr("y1", ay0).attr("y2", ay1)
    .attr("stroke", "#a9a9a9").attr("stroke-width", 1.4);
  g.append("g").selectAll("line").data(lvYTicks).join("line")
    .attr("x1", ax0).attr("x2", ax1).attr("y1", v => y(v)).attr("y2", v => y(v))
    .attr("stroke", "#9d9d9d").attr("stroke-width", 1.6);
  g.append("line").attr("x1", ax0).attr("x2", ax1).attr("y1", ay0).attr("y2", ay0).attr("stroke", "#111").attr("stroke-width", 2.6);
  g.append("line").attr("x1", ax0).attr("x2", ax1).attr("y1", ay1).attr("y2", ay1).attr("stroke", "#777").attr("stroke-width", 1.5);
  g.append("line").attr("x1", ax0).attr("x2", ax0).attr("y1", ay0).attr("y2", ay1).attr("stroke", "#777").attr("stroke-width", 1.5);
  // tick labels
  const yl = g.append("g").attr("font-family", SANS).attr("font-size", 14).attr("fill", "#1a1a1a");
  lvYTicks.forEach(v => {
    yl.append("text").attr("x", ax0 - 9).attr("y", y(v) + 5).attr("text-anchor", "end")
      .attr("textLength", 50).attr("lengthAdjust", "spacingAndGlyphs").text(v.toFixed(2));
    g.append("line").attr("x1", ax0 - 7).attr("x2", ax0).attr("y1", y(v)).attr("y2", y(v)).attr("stroke", "#333").attr("stroke-width", 1.4);
  });
  cfg.xTicks.forEach(v => {
    yl.append("text").attr("x", x(v)).attr("y", cfg.xLabBase).attr("text-anchor", "middle")
      .attr("textLength", cfg.xTL).attr("lengthAdjust", "spacingAndGlyphs").text(v.toFixed(cfg.xDigits));
    g.append("line").attr("x1", x(v)).attr("x2", x(v)).attr("y1", ay1).attr("y2", ay1 + 6).attr("stroke", "#333").attr("stroke-width", 1.4);
  });
  g.append("text").attr("x", cfg.titleX).attr("y", cfg.titleY).attr("text-anchor", "middle")
    .attr("font-family", SANS).attr("font-size", 14).attr("fill", "#1a1a1a")
    .attr("textLength", 219).attr("lengthAdjust", "spacingAndGlyphs").text(cfg.title);
  if (cfg.yTitle) {
    g.append("text").attr("transform", `translate(${cfg.yTitleX},${(ay0 + ay1) / 2}) rotate(-90)`)
      .attr("text-anchor", "middle").attr("dy", "0.35em").attr("font-family", VERD).attr("font-size", 12.5)
      .attr("fill", "#2a2a2a").attr("textLength", 117).attr("lengthAdjust", "spacingAndGlyphs").text(cfg.yTitle);
  }
  // error bars and readings
  const rows = d.freq.map((f, i) => ({f, p: d.pt[i], hi: d.hi[i], lo: d.lo[i]}));
  const bars = g.append("g").attr("stroke", "#111");
  rows.forEach(r => {
    const px = x(r.f);
    bars.append("line").attr("x1", px).attr("x2", px).attr("y1", y(r.hi)).attr("y2", y(r.lo)).attr("stroke-width", 2.2);
    [r.hi, r.lo].forEach(v => bars.append("line").attr("x1", px - 9).attr("x2", px + 9).attr("y1", y(v)).attr("y2", y(v)).attr("stroke-width", 3));
  });
  g.append("g").selectAll("ellipse").data(rows).join("ellipse")
    .attr("cx", r => x(r.f)).attr("cy", r => y(r.p)).attr("rx", 3).attr("ry", 4.6).attr("fill", "#e0141a");
  // sigma label
  const s = g.append("text").attr("x", cfg.sigma.x).attr("y", cfg.sigma.y).attr("font-family", SERIF)
    .attr("font-size", 90).attr("fill", "#1a1a1a");
  s.append("tspan").text("σ");
  s.append("tspan").attr("font-size", 56).attr("dy", 10).text(cfg.sigma.sub);
}

lvGraph({bezel: [2205, 912, 3436, 1193], area: [2332, 925, 3404, 1144], xDomain: [327.455, 327.472],
  xTicks: lv1XTicks, xDigits: 4, xTL: 58, xLabBase: 1168,
  title: "frequency (MHz) or power (dBm)", titleX: 2866, titleY: 1188,
  yTitle: "selected value #1", yTitleX: 2258, sigma: {x: 2381, y: 1112, sub: "1"}},
  {freq: lia1Freq, pt: lia1Pt, hi: lia1Hi, lo: lia1Lo});

lvGraph({bezel: [2196, 1303, 3463, 1583], area: [2270, 1316, 3381, 1534], xDomain: [327.298, 327.314],
  xTicks: lv2XTicks, xDigits: 3, xTL: 52, xLabBase: 1558,
  title: "frequency (MHz) of power (dBm)", titleX: 2825, titleY: 1578,
  sigma: {x: 2313, y: 1497, sub: "2"}},
  {freq: lia2Freq, pt: lia2Pt, hi: lia2Hi, lo: lia2Lo});

// faint light streaks along the right edge
const streaks = [[3530, 200, 3580, 300], [3545, 330, 3580, 410], [3490, 700, 3530, 800], [3500, 1040, 3560, 1160], [3520, 1180, 3575, 1300]];
svg.append("g").selectAll("line").data(streaks).join("line")
  .attr("x1", s => s[0]).attr("y1", s => s[1]).attr("x2", s => s[2]).attr("y2", s => s[3])
  .attr("stroke", "#ffffff").attr("stroke-opacity", 0.7).attr("stroke-width", 2);
</script>
</body>
</html>
